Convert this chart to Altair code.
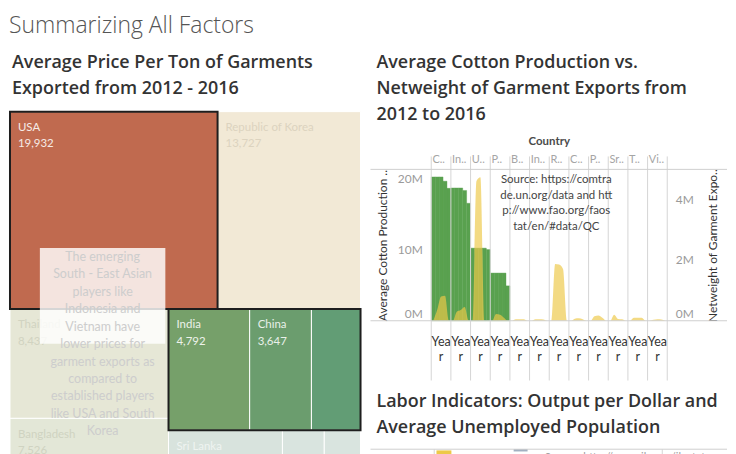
import altair as alt
import pandas as pd

FONT = "Lato"
TFONT = "Open Sans"

# ---------------- data ----------------
tm_countries = ["USA", "Republic of Korea", "Thailand", "Bangladesh", "India", "China",
                "Pakistan", "Sri Lanka", "Indonesia", "Vietnam", "Cambodia", "Philippines"]
tm_prices = [19932, 13727, 8437, 7526, 4792, 3647, 2900, 2450, 900, 780, 2100, 1766]
tm_selected_groups = [["USA"], ["India", "China", "Pakistan"]]

c2_countries = ["China", "India", "USA", "Pakistan", "Bangladesh", "Indonesia",
                "Republic of Korea", "Cambodia", "Philippines", "Sri Lanka", "Thailand", "Vietnam"]
c2_headers = ["C..", "In..", "U..", "P..", "B..", "In..", "R..", "C..", "P..", "Sr..", "T..", "Vi.."]
years = [2012, 2013, 2014, 2015, 2016]
cotton_m = [
    [20.2, 20.2, 20.2, 19.6, 18.6],
    [18.65, 18.65, 18.65, 18.3, 16.5],
    [10.2, 10.2, 10.2, 10.2, 10.0],
    [6.7, 6.7, 6.7, 6.7, 4.9],
    [0, 0, 0, 0, 0],
    [0, 0, 0, 0, 0],
    [0, 0, 0, 0, 0],
    [0, 0, 0, 0, 0],
    [0, 0, 0, 0, 0],
    [0, 0, 0, 0, 0],
    [0, 0, 0, 0, 0],
    [0, 0, 0, 0, 0],
]
netweight_m = [
    [0, 0.35, 0.8, 0.82, 0],
    [0, 0.3, 0.35, 0.45, 0],
    [0, 4.6, 4.72, 0, 0],
    [0, 0.22, 0.2, 0.1, 0],
    [0, 0.05, 0.05, 0.05, 0],
    [0, 0.05, 0.05, 0.04, 0],
    [0, 1.87, 1.85, 1.7, 0],
    [0, 0.07, 0.08, 0.05, 0],
    [0, 0.15, 0.17, 0.1, 0],
    [0, 0.2, 0.06, 0.05, 0],
    [0, 0.1, 0.1, 0.1, 0],
    [0, 0.03, 0.05, 0.04, 0],
]
c2_note = "Source: https://comtra\nde.un.org/data and htt\np://www.fao.org/faos\ntat/en/#data/QC"

labor_countries = ["Bangladesh", "Cambodia", "China", "India", "Indonesia", "Pakistan"]
output_per_dollar = [9.8, 6.1, 3.9, 5.2, 3.4, 4.6]
unemployed_m = [1.0, 0.3, 29.5, 17.8, 7.2, 3.6]
c3_note = "Source: http://www.ilo.org/ilostat"

note_text = ("The emerging\nSouth - East Asian\nplayers like\nIndonesia and\nVietnam have\n"
             "lower prices for\ngarment exports as\ncompared to\nestablished players\n"
             "like USA and South\nKorea")

dash_title = "Summarizing All Factors"
t_left = "Average Price Per Ton of Garments\nExported from 2012 - 2016"
t_c2 = "Average Cotton Production vs.\nNetweight of Garment Exports from\n2012 to 2016"
t_c3 = "Labor Indicators: Output per Dollar and\nAverage Unemployed Population"

# ---------------- styles ----------------
fill_col = {"USA": "#c06a4f", "Republic of Korea": "#f2e9d6", "Thailand": "#e6e7d6",
            "Bangladesh": "#e3e7d7", "India": "#76a06a", "China": "#6b9d6e",
            "Pakistan": "#629d75", "Sri Lanka": "#d8e3dd", "Indonesia": "#d9e4df",
            "Vietnam": "#d9e4df", "Cambodia": "#dae4df", "Philippines": "#dae4df"}
label_col = {"USA": "#f6ebe7", "Republic of Korea": "#dcd3bf", "Thailand": "#d1d3c1",
             "Bangladesh": "#cfd3c1", "India": "#edf2ea", "China": "#e9f0ea",
             "Pakistan": "#e9f0ea", "Sri Lanka": "#eff4f1", "Indonesia": "#eff4f1",
             "Vietnam": "#eff4f1", "Cambodia": "#eff4f1", "Philippines": "#eff4f1"}
GREEN = "#59a14f"
YELLOW = "#edc948"


def title_cell(text, w, h, dx, dy):
    return alt.Chart(pd.DataFrame({"t": [text]})).mark_text(
        align="left", baseline="top", lineBreak="\n", lineHeight=26, fontSize=18,
        font=TFONT, fontWeight=600, color="#333333").encode(
        x=alt.value(dx), y=alt.value(dy), text="t:N").properties(width=w, height=h)


# ---------------- treemap layout ----------------
TW, TH = 352, 406
plan = [("row", [0, 1]), ("col", [2, 3]), ("row", [4, 5, 6]), ("row", [7, 8, 9]), ("row", [10, 11])]


def layout(values, W, H, plan):
    k = W * H / sum(values)
    x, y, w, h = 0.0, 0.0, float(W), float(H)
    out = {}
    for orient, idx in plan:
        s = sum(values[i] for i in idx) * k
        if orient == "row":
            rh = s / w
            cx = x
            for i in idx:
                rw = values[i] * k / rh
                out[i] = (cx, y, cx + rw, y + rh)
                cx += rw
            y += rh
            h -= rh
        else:
            cw = s / h
            cy = y
            for i in idx:
                ch = values[i] * k / cw
                out[i] = (x, cy, x + cw, cy + ch)
                cy += ch
            x += cw
            w -= cw
    return out


rects = layout(tm_prices, TW, TH, plan)
tm_rows = []
for i, c in enumerate(tm_countries):
    x0, y0, x1, y1 = rects[i]
    tm_rows.append({"country": c, "price": tm_prices[i], "x0": x0, "y0": y0, "x1": x1, "y1": y1,
                    "lx": x0 + 8, "ly": y0 + 10.5,
                    "label": f"{c}\n{tm_prices[i]:,}", "show": (x1 - x0) >= 60})
tm_df = pd.DataFrame(tm_rows)
lab_df = tm_df[tm_df["show"]]

sel_rows = []
for g in tm_selected_groups:
    sub = tm_df[tm_df["country"].isin(g)]
    sel_rows.append({"x0": sub.x0.min(), "y0": sub.y0.min(), "x1": sub.x1.max(), "y1": sub.y1.max()})
sel_df = pd.DataFrame(sel_rows)

note_box = {"x0": 30, "x1": 156, "y0": 137, "y1": 233, "tx": 93, "ty": 140}
box_df = pd.DataFrame([note_box])
ann_df = pd.DataFrame([{"tx": note_box["tx"], "ty": note_box["ty"], "t": note_text}])

txs = alt.Scale(domain=[0, TW], nice=False, zero=False)
tys = alt.Scale(domain=[0, TH], nice=False, zero=False, reverse=True)

tm_rect = alt.Chart(tm_df).mark_rect(stroke="white", strokeWidth=1).encode(
    x=alt.X("x0:Q", scale=txs, axis=None), x2="x1:Q",
    y=alt.Y("y0:Q", scale=tys, axis=None), y2="y1:Q",
    color=alt.Color("country:N", scale=alt.Scale(domain=tm_countries,
                    range=[fill_col[c] for c in tm_countries]), legend=None),
)
tm_sel = alt.Chart(sel_df).mark_rect(filled=False, color="#1e1e1e", strokeWidth=2).encode(
    x=alt.X("x0:Q", scale=txs, axis=None), x2="x1:Q",
    y=alt.Y("y0:Q", scale=tys, axis=None), y2="y1:Q",
)
tm_lab = alt.Chart(lab_df).mark_text(align="left", baseline="top", lineBreak="\n",
                                     lineHeight=16.5, fontSize=11.5, font=FONT).encode(
    x=alt.X("lx:Q", scale=txs, axis=None), y=alt.Y("ly:Q", scale=tys, axis=None),
    text="label:N",
    color=alt.Color("country:N", scale=alt.Scale(domain=tm_countries,
                    range=[label_col[c] for c in tm_countries]), legend=None),
)
tm_box = alt.Chart(box_df).mark_rect(color="white", opacity=0.82).encode(
    x=alt.X("x0:Q", scale=txs, axis=None), x2="x1:Q",
    y=alt.Y("y0:Q", scale=tys, axis=None), y2="y1:Q",
)
tm_ann = alt.Chart(ann_df).mark_text(align="center", baseline="top", lineBreak="\n",
                                     lineHeight=17.5, fontSize=12.5, font=FONT,
                                     color="#cdcdcd").encode(
    x=alt.X("tx:Q", scale=txs, axis=None), y=alt.Y("ty:Q", scale=tys, axis=None),
    text="t:N",
)
treemap = alt.layer(tm_rect, tm_sel, tm_lab, tm_box, tm_ann).resolve_scale(
    color="independent").properties(width=TW, height=TH)
left = alt.vconcat(title_cell(t_left, TW, 55, 2, 8), treemap, spacing=10)

# ---------------- chart 2 ----------------
W2, H2 = 237, 152
NY = len(years)
cot_rows, net_rows = [], []
for ci, c in enumerate(c2_countries):
    for yi, yr in enumerate(years):
        if cotton_m[ci][yi] > 0:
            cot_rows.append({"country": c, "year": yr, "x": ci * NY + yi, "xe": ci * NY + yi + 1,
                             "v": cotton_m[ci][yi]})
        net_rows.append({"country": c, "year": yr, "x": ci * NY + yi + 0.5, "n": netweight_m[ci][yi]})
cot_df = pd.DataFrame(cot_rows)
net_df = pd.DataFrame(net_rows)
sep_df = pd.DataFrame({"x": [k * NY for k in range(len(c2_countries) + 1)]})
hdr_df = pd.DataFrame({"x": [k * NY + 0.3 for k in range(len(c2_countries))], "t": c2_headers})
yr_df = pd.DataFrame({"x": [k * NY + NY / 2 for k in range(len(c2_countries))]})
ctry_df = pd.DataFrame({"x": [len(c2_countries) * NY / 2], "t": ["Country"]})
note_df = pd.DataFrame({"x": [31.8], "t": [c2_note]})

xs = alt.Scale(domain=[0, len(c2_countries) * NY], nice=False, zero=False)
grid_vals = [i * 0.5 for i in range(len(c2_countries) * NY * 2 + 1)]

green = alt.Chart(cot_df).transform_calculate(base="0").mark_rect(
    color=GREEN, stroke=GREEN, strokeWidth=0.4).encode(
    x=alt.X("x:Q", scale=xs, axis=alt.Axis(values=grid_vals, grid=True, gridColor="#f1f1f1",
                                          labels=False, ticks=False, domain=False, title=None)),
    x2="xe:Q",
    y=alt.Y("v:Q", scale=alt.Scale(domain=[0, 21.26], nice=False),
            axis=alt.Axis(values=[0, 10, 20], labelExpr="datum.value + 'M'", grid=False,
                          ticks=False, domain=False, labelColor="#9a9a9a", labelFontSize=12,
                          labelFont=FONT, labelPadding=9, labelFlush=True,
                          title="Average Cotton Production ..",
                          titleColor="#333333", titleFontSize=12, titleFont=FONT,
                          titleFontWeight="normal", titlePadding=8)),
    y2="base:Q",
)
yellow = alt.Chart(net_df).mark_area(interpolate="monotone", color=YELLOW, opacity=0.68).encode(
    x=alt.X("x:Q", scale=xs, axis=None),
    y=alt.Y("n:Q", scale=alt.Scale(domain=[0, 4.98], nice=False),
            axis=alt.Axis(orient="right", values=[0, 2, 4], labelExpr="datum.value + 'M'",
                          grid=False, ticks=False, domain=False, labelColor="#9a9a9a",
                          labelFontSize=12, labelFont=FONT, labelPadding=8, labelFlush=True,
                          title="Netweight of Garment Expo..", titleAngle=270,
                          titleColor="#333333", titleFontSize=12, titleFont=FONT,
                          titleFontWeight="normal", titlePadding=26)),
    detail="country:N",
)
seps = alt.Chart(sep_df).mark_rule(color="#d5d5d5", strokeWidth=1).encode(
    x=alt.X("x:Q", scale=xs, axis=None), y=alt.value(-13), y2=alt.value(H2 + 60))
one = alt.Data(values=[{"a": 1}])
rule_top = alt.Chart(one).mark_rule(color="#cfcfcf").encode(
    x=alt.value(-61), x2=alt.value(W2 + 60), y=alt.value(0))
rule_bot = alt.Chart(one).mark_rule(color="#cfcfcf").encode(
    x=alt.value(-61), x2=alt.value(W2 + 60), y=alt.value(H2))
hdrs = alt.Chart(hdr_df).mark_text(align="left", baseline="middle", fontSize=11, font=FONT,
                                   color="#a5a5a5").encode(
    x=alt.X("x:Q", scale=xs, axis=None), y=alt.value(-9), text="t:N")
ctry = alt.Chart(ctry_df).mark_text(align="center", baseline="middle", fontSize=11.5, font=FONT,
                                    fontWeight="bold", color="#4a4a4a").encode(
    x=alt.X("x:Q", scale=xs, axis=None), y=alt.value(-27), text="t:N")
yrs1 = alt.Chart(yr_df).mark_text(align="center", baseline="middle", fontSize=12.5, font=FONT,
                                  color="#333333", text="Yea").encode(
    x=alt.X("x:Q", scale=xs, axis=None), y=alt.value(H2 + 21))
yrs2 = alt.Chart(yr_df).mark_text(align="center", baseline="middle", fontSize=12.5, font=FONT,
                                  color="#333333", text="r").encode(
    x=alt.X("x:Q", scale=xs, axis=None), y=alt.value(H2 + 36))
note = alt.Chart(note_df).mark_text(align="center", baseline="top", fontSize=11.5, font=FONT,
                                    lineBreak="\n", lineHeight=15.5, color="#444444").encode(
    x=alt.X("x:Q", scale=xs, axis=None), y=alt.value(5), text="t:N")

chart2 = alt.layer(green, yellow, alt.layer(seps, rule_top, rule_bot, hdrs, ctry, yrs1, yrs2, note)).resolve_scale(
    y="independent").properties(width=W2, height=H2)

# ---------------- chart 3 ----------------
W3, H3 = 237, 60
lab3 = pd.DataFrame({"country": labor_countries, "out": output_per_dollar, "unemp": unemployed_m})
bx = alt.Scale(domain=labor_countries, paddingInner=0, paddingOuter=0)
bars3 = alt.Chart(lab3).mark_bar(width=15, color=YELLOW, xOffset=-7).encode(
    x=alt.X("country:N", scale=bx, axis=None),
    y=alt.Y("out:Q", scale=alt.Scale(domain=[0, 10], nice=False), axis=None))
ticks3 = alt.Chart(lab3).mark_tick(color="#7b8ea6", thickness=2.5, size=14, xOffset=-9).encode(
    x=alt.X("country:N", scale=bx, axis=None),
    y=alt.Y("unemp:Q", scale=alt.Scale(domain=[0, 30], nice=False), axis=None))
rule3 = alt.Chart(one).mark_rule(color="#cfcfcf").encode(
    x=alt.value(-61), x2=alt.value(W3 + 60), y=alt.value(0))
v3a = alt.Chart(one).mark_rule(color="#d5d5d5").encode(x=alt.value(3), y=alt.value(0), y2=alt.value(H3))
v3b = alt.Chart(one).mark_rule(color="#d5d5d5").encode(x=alt.value(W3 - 5), y=alt.value(0), y2=alt.value(H3))
src3 = alt.Chart(pd.DataFrame({"t": [c3_note]})).mark_text(
    align="left", baseline="top", fontSize=11, font=FONT, color="#a0a0a0").encode(
    x=alt.value(114), y=alt.value(3), text="t:N")
chart3 = alt.layer(bars3, ticks3, alt.layer(rule3, v3a, v3b, src3)).resolve_scale(
    y="independent").properties(width=W3, height=H3)

right = alt.vconcat(title_cell(t_c2, W2, 80, -55, 8), chart2,
                    title_cell(t_c3, W2, 42, -55, 1), chart3, spacing=11)

chart = alt.hconcat(left, right, spacing=8).properties(
    title=alt.TitleParams(dash_title, anchor="start", fontSize=23, font=TFONT,
                          fontWeight=300, color="#555555", offset=8),
    padding={"left": 1, "top": 6, "right": 0, "bottom": 0},
).configure_view(strokeWidth=0)

chart.save("out.html", embed_options={"renderer": "svg", "actions": False})
